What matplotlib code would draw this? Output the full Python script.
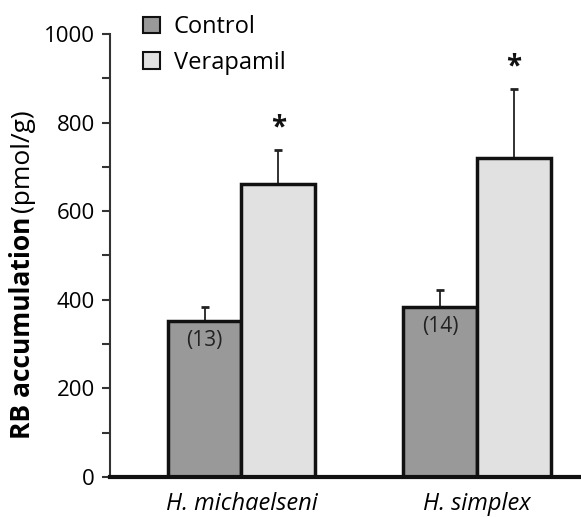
import numpy as np
import matplotlib.pyplot as plt
from matplotlib.ticker import MultipleLocator

plt.rcParams['font.family'] = ['Open Sans', 'DejaVu Sans']

# data
species = ['H. michaelseni', 'H. simplex']
control = [352, 384]
control_err = [32, 38]
verapamil = [661, 720]
verapamil_err = [77, 156]
n_labels = ['(13)', '(14)']

fig = plt.figure(figsize=(5.81, 5.17), dpi=100)
ax = fig.add_axes([0.1893, 0.0774, 0.82, 0.857])

x = np.arange(len(species))
w = 0.313
ax.bar(x - w/2, control, w, color='#999999', edgecolor='#111111', linewidth=2.5,
       label='Control', zorder=3)
ax.bar(x + w/2, verapamil, w, color='#e1e1e1', edgecolor='#111111', linewidth=2.5,
       label='Verapamil', zorder=3)
ax.errorbar(x - w/2, control, yerr=[np.zeros(2), control_err], fmt='none',
            ecolor='#222222', elinewidth=1.3, capsize=3, capthick=2, zorder=2)
ax.errorbar(x + w/2, verapamil, yerr=[np.zeros(2), verapamil_err], fmt='none',
            ecolor='#222222', elinewidth=1.3, capsize=3, capthick=2, zorder=2)

for i in range(len(species)):
    ax.text(x[i] - w/2, control[i] - 20, n_labels[i], ha='center', va='top', fontsize=15,
            color='#222222')
    ax.text(x[i] + w/2, verapamil[i] + verapamil_err[i] + 16, '*', ha='center', va='bottom',
            fontsize=20, fontweight='bold', color='#111111')

ax.set_xlim(-0.558, 1.464)
ax.set_ylim(0, 1000)
ax.set_xticks(x)
ax.set_xticklabels(species, fontstyle='italic', fontsize=17)
ax.tick_params(axis='x', length=0, pad=11)
ax.yaxis.set_major_locator(MultipleLocator(200))
ax.yaxis.set_minor_locator(MultipleLocator(100))
ax.tick_params(axis='y', which='both', length=6, width=1.5, labelsize=16, color='#333333',
               pad=5)
ax.spines['top'].set_visible(False)
ax.spines['right'].set_visible(False)
ax.spines['left'].set_linewidth(1.5)
ax.spines['left'].set_color('#333333')
ax.spines['bottom'].set_linewidth(3)
ax.spines['bottom'].set_color('#111111')
ax.spines['bottom'].set_zorder(5)

t1 = fig.text(0.038, 0.15, 'RB accumulation', rotation=90, fontweight='bold',
              fontsize=19, ha='center', va='bottom')
ax.annotate('(pmol/g)', xy=(0.5, 1), xycoords=t1, xytext=(0, 4), textcoords='offset points',
            rotation=90, ha='center', va='bottom', fontsize=19)

leg = ax.legend(loc='upper left', bbox_to_anchor=(0.21, 1.012), bbox_transform=fig.transFigure,
                frameon=False, fontsize=17, handlelength=0.7, handleheight=0.7,
                handletextpad=0.6, labelspacing=0.5)
for h in leg.legend_handles:
    h.set_linewidth(1.5)

fig.savefig('out.png', dpi=100)
